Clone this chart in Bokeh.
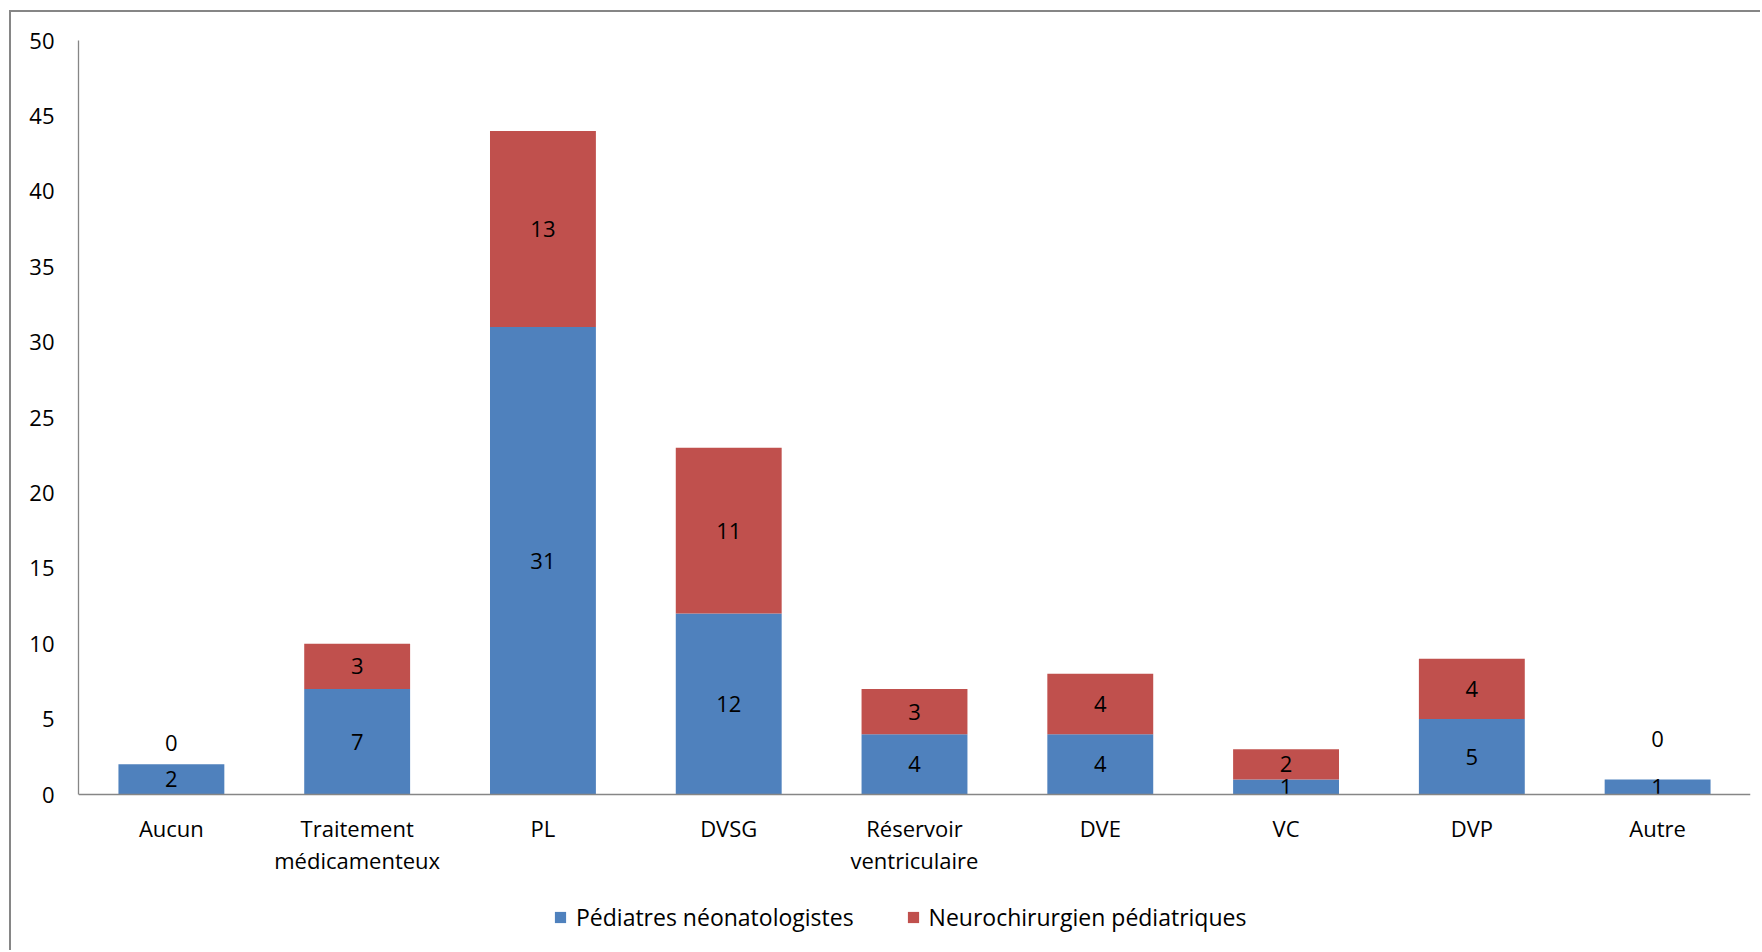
from bokeh.plotting import figure
from bokeh.models import (ColumnDataSource, FactorRange, Range1d, Legend,
                          LegendItem, FixedTicker)
from bokeh.core.properties import value
from bokeh.embed import file_html
from bokeh.resources import INLINE

# Categories (two-line labels keep their line break)
categories = ["Aucun", "Traitement\nmédicamenteux", "PL", "DVSG",
              "Réservoir\nventriculaire", "DVE", "VC", "DVP", "Autre"]
pediatres = [2, 7, 31, 12, 4, 4, 1, 5, 1]
neurochir = [0, 3, 13, 11, 3, 4, 2, 4, 0]
series_names = ["Pédiatres néonatologistes", "Neurochirurgien pédiatriques"]
y_ticks = [0, 5, 10, 15, 20, 25, 30, 35, 40, 45, 50]
y_max = 50

FONT = "Open Sans"
FONT_SIZE = "22px"
BLUE = "#4F81BD"
RED = "#C0504D"
GREY = "#868686"

# The frame runs down to the bottom of the canvas so that the category
# labels and the legend live inside it; the x axis is pinned at y = 0.
FRAME_TOP, BASELINE, FRAME_BOTTOM = 40, 794, 952
px_per_unit = (BASELINE - FRAME_TOP) / y_max
y_low = -(FRAME_BOTTOM - BASELINE) / px_per_unit

src = ColumnDataSource(dict(cat=categories, ped=pediatres, neuro=neurochir))

p = figure(
    x_range=FactorRange(factors=categories, range_padding=0),
    y_range=Range1d(y_low, y_max),
    width=1751, height=940,
    output_backend="svg", toolbar_location=None,
    min_border_left=67, min_border_right=12,
    min_border_top=28, min_border_bottom=0,
    margin=(10, 0, 0, 9),
    styles={"border-left": f"2px solid {GREY}", "border-top": f"2px solid {GREY}"},
)
p.outline_line_color = None
p.xgrid.grid_line_color = None
p.ygrid.grid_line_color = None

renderers = p.vbar_stack(["ped", "neuro"], x="cat", width=0.57,
                         color=[BLUE, RED], line_color=None, source=src)

# Axes
p.yaxis.ticker = FixedTicker(ticks=y_ticks)
p.yaxis.bounds = (0, y_max)
p.xaxis.fixed_location = 0
for ax in (p.xaxis, p.yaxis):
    ax.axis_line_color = GREY
    ax.axis_line_width = 1.3
    ax.major_tick_line_color = None
    ax.minor_tick_line_color = None
    ax.major_tick_out = 0
    ax.major_tick_in = 0
    ax.major_label_text_font = FONT
    ax.major_label_text_font_size = FONT_SIZE
    ax.major_label_text_color = "#000000"
p.yaxis.major_label_standoff = 24
p.xaxis.major_label_standoff = 18
p.xaxis.major_label_text_line_height = 1.07

# Value labels, centred in each segment; an empty segment's label sits above the stack
ped_y = [v / 2 for v in pediatres]
neuro_y = [a + b / 2 for a, b in zip(pediatres, neurochir)]
neuro_off = [(-21 if a >= 2 else -40) if b == 0 else 0
             for a, b in zip(pediatres, neurochir)]
lab = ColumnDataSource(dict(
    x=categories + categories,
    y=ped_y + neuro_y,
    t=[str(v) for v in pediatres] + [str(v) for v in neurochir],
    off=[0] * len(categories) + neuro_off,
))
p.text(x="x", y="y", text="t", y_offset="off", source=lab,
       text_align="center", text_baseline="middle",
       text_font=value(FONT), text_font_size=FONT_SIZE, text_color="#000000")

legend = Legend(
    items=[LegendItem(label=series_names[0], renderers=[renderers[0]]),
           LegendItem(label=series_names[1], renderers=[renderers[1]])],
    orientation="horizontal",
    location=(475, 19),
    glyph_width=14, glyph_height=14,
    label_standoff=9, spacing=52,
    padding=0, margin=0,
    border_line_color=None, background_fill_alpha=0,
    label_text_font=FONT, label_text_font_size="23px",
    label_text_color="#000000",
)
p.add_layout(legend)

open("out.html", "w").write(file_html(p, INLINE))
